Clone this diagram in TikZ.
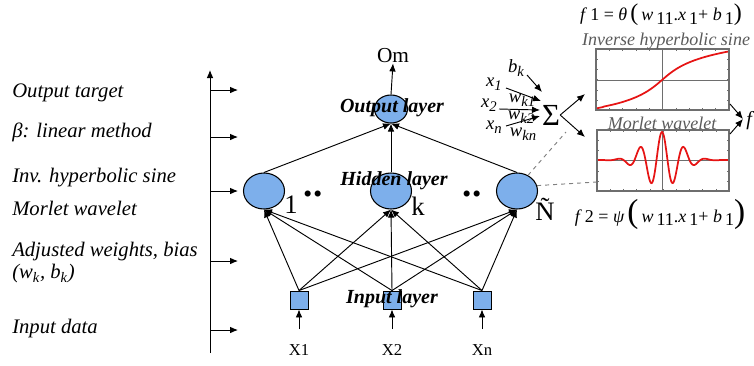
\documentclass[tikz,border=0pt]{standalone}
\usepackage{fontspec}
\setmainfont{Liberation Serif}
\usetikzlibrary{shapes.geometric,arrows.meta}
\definecolor{nodeblue}{RGB}{125,175,235}
\definecolor{framegray}{RGB}{110,110,110}
\definecolor{titlegray}{RGB}{90,90,90}
\definecolor{curvered}{RGB}{230,20,20}
\newcommand{\lowsub}[1]{\raisebox{-3pt}{\fontsize{11}{11}\selectfont\itshape #1}}
\begin{document}
\begin{tikzpicture}[x=0.75pt,y=-0.75pt,
  neuron/.style={ellipse,draw=black,fill=nodeblue,line width=0.8pt,inner sep=0pt},
  inbox/.style={rectangle,draw=black,fill=nodeblue,line width=0.7pt,minimum size=13.5pt,inner sep=0pt},
  arr/.style={line width=0.7pt,-{Latex[length=6pt,width=5pt]}},
  lbl/.style={font=\fontsize{15.5}{17}\selectfont\itshape,anchor=west,inner sep=0pt},
  layerlbl/.style={font=\fontsize{15}{17}\selectfont\bfseries\itshape,inner sep=0pt},
  idx/.style={font=\fontsize{20}{22}\selectfont,inner sep=0pt},
  xlbl/.style={font=\fontsize{12.5}{14}\selectfont,inner sep=0pt},
  small/.style={font=\fontsize{14}{15}\selectfont\itshape,inner sep=0pt},
  ptitle/.style={font=\fontsize{13.5}{15}\selectfont\itshape,text=titlegray,inner sep=0pt},
  frame/.style={draw=framegray,line width=0.8pt},
  axisln/.style={draw=framegray,line width=0.6pt},
  curve/.style={draw=curvered,line width=1.3pt},
  dashgray/.style={draw=gray,dashed,line width=0.7pt},
  dots/.style={font=\fontsize{28}{28}\selectfont\bfseries,inner sep=0pt,anchor=base}]
\useasboundingbox (0,0) rectangle (754,365);

% ---------- left axis ----------
\coordinate (axb) at (210,353);
\coordinate (axt) at (210,70);
\draw[arr] (axb) -- (axt);
\foreach \n/\yy in {a1/90,a2/137,a3/191,a4/261,a5/330}{
  \coordinate (\n s) at (210,\yy);
  \coordinate (\n e) at (238,\yy);
  \draw[arr] (\n s) -- (\n e);
}
\node[lbl] (t1) at (12,93) {Output target};
\node[lbl] (t2) at (12,132) {β: linear method};
\node[lbl] (t3) at (12,178) {Inv. hyperbolic sine};
\node[lbl] (t4) at (12,208) {Morlet wavelet};
\node[lbl] (t5) at (12,252) {Adjusted weights, bias};
\node[lbl] (t6) at (12,274) {(\textit{w}\textsubscript{\textit{k}}, \textit{b}\textsubscript{\textit{k}})};
\node[lbl] (t7) at (12,329) {Input data};

% ---------- network nodes ----------
\node[neuron,minimum width=24.75pt,minimum height=21pt] (out) at (391,109) {};
\node[neuron,minimum width=30.75pt,minimum height=27pt] (h1) at (264,191) {};
\node[neuron,minimum width=30.75pt,minimum height=27pt] (hk) at (391,191) {};
\node[neuron,minimum width=30.75pt,minimum height=27pt] (hN) at (517,191) {};
\node[inbox] (i1) at (299,300) {};
\node[inbox] (i2) at (392,300) {};
\node[inbox] (in) at (482,300) {};

\node[font=\fontsize{16}{18}\selectfont,inner sep=0pt] (Om) at (393,56) {Om};
\draw[arr] (out.north) -- (Om.south);

\foreach \h in {h1,hk,hN}{
  \draw[arr] (\h.north) -- (out.south);
}
\foreach \i in {i1,i2,in}{
  \foreach \h in {h1,hk,hN}{
    \draw[arr] (\i.north) -- (\h.south);
  }
}
\foreach \i/\xx in {i1/299,i2/392,in/482}{
  \coordinate (\i b) at (\xx,329);
  \draw[arr] (\i b) -- (\i.south);
}
\node[xlbl] (X1) at (299,350) {X1};
\node[xlbl] (X2) at (392,350) {X2};
\node[xlbl] (Xn) at (482,350) {Xn};

\node[idx] (l1) at (291,205) {1};
\node[idx] (lk) at (418,206) {k};
\node[idx] (lN) at (545,209) {Ñ};
\node[dots] (d1) at (313,196) {..};
\node[dots] (d2) at (472,196) {..};

\node[layerlbl] (ol) at (392,108) {Output layer};
\node[layerlbl] (hl) at (394,181) {Hidden layer};
\node[layerlbl] (il) at (392,299) {Input layer};

% ---------- neuron detail ----------
\node[font=\fontsize{23}{23}\selectfont,inner sep=0pt] (sig) at (551,115) {Σ};
\node[small] (bk) at (516,68) {b\lowsub{k}};
\node[small] (x1) at (494,84) {x\lowsub{1}};
\node[small] (x2) at (489,105) {x\lowsub{2}};
\node[small] (xn) at (494,127) {x\lowsub{n}};
\node[small] (w1) at (522,100) {w\lowsub{k1}};
\node[small] (w2) at (521,117) {w\lowsub{k2}};
\node[small] (wn) at (523,134) {w\lowsub{kn}};
\coordinate (bks) at (527,75);
\coordinate (bke) at (542,92);
\coordinate (x1s) at (506,88);
\coordinate (x1e) at (541,101);
\coordinate (x2s) at (499,109);
\coordinate (x2e) at (540,110);
\coordinate (xns) at (506,126);
\coordinate (xne) at (540,116);
\draw[arr] (bks) -- (bke);
\draw[arr] (x1s) -- (x1e);
\draw[arr] (x2s) -- (x2e);
\draw[arr] (xns) -- (xne);
\coordinate (su) at (585,94);
\coordinate (sd) at (585,137);
\draw[arr] (sig.east) -- (su);
\draw[arr] (sig.east) -- (sd);

% dashed links
\coordinate (dsig) at (566,132);
\coordinate (dbox) at (597,182);
\draw[dashgray] (hN.55) -- (dsig);
\draw[dashgray] (hN.15) -- (dbox);

% ---------- plots ----------
% inverse hyperbolic sine
\fill[white] (596,49) rectangle (729,110);
\draw[axisln] (662,49) -- (662,110);
\draw[axisln] (596,80) -- (729,80);
\foreach \t in {0,1,...,10}{
  \draw[framegray,line width=0.4pt] (596+13.3*\t,110) -- (596+13.3*\t,108);
  \draw[framegray,line width=0.4pt] (596+13.3*\t,49) -- (596+13.3*\t,51);
}
\foreach \t in {0,1,...,6}{
  \draw[framegray,line width=0.4pt] (596,49+10.2*\t) -- (598,49+10.2*\t);
  \draw[framegray,line width=0.4pt] (729,49+10.2*\t) -- (727,49+10.2*\t);
}
\begin{scope}
\clip (596,49) rectangle (729,110);
\draw[curve] plot[domain=-66:67,samples=80,smooth] ({662+\x},{80-13*ln(\x/15+sqrt((\x/15)^2+1))});
\end{scope}
\draw[frame] (596,49) rectangle (729,110);
\node[ptitle] (pt1) at (666,41) {Inverse hyperbolic sine};

% morlet wavelet
\fill[white] (597,130) rectangle (729,191);
\draw[axisln] (662,130) -- (662,191);
\draw[axisln] (597,160) -- (729,160);
\foreach \t in {0,1,...,10}{
  \draw[framegray,line width=0.4pt] (597+13.2*\t,191) -- (597+13.2*\t,189);
  \draw[framegray,line width=0.4pt] (597+13.2*\t,130) -- (597+13.2*\t,132);
}
\foreach \t in {0,1,...,6}{
  \draw[framegray,line width=0.4pt] (597,130+10.2*\t) -- (599,130+10.2*\t);
  \draw[framegray,line width=0.4pt] (729,130+10.2*\t) -- (727,130+10.2*\t);
}
\begin{scope}
\clip (597,130) rectangle (729,191);
\draw[curve] plot[domain=-65:67,samples=220,smooth] ({662+\x},{160-28*cos(5*\x/17.5 r)*exp(-(\x/17.5)^2/2)});
\end{scope}
\draw[frame] (597,130) rectangle (729,191);
\node[ptitle] (pt2) at (662,123) {Morlet wavelet};

% outputs to f
\coordinate (p1o) at (730,104);
\coordinate (p2o) at (730,134);
\coordinate (fin) at (743,119);
\draw[arr] (p1o) -- (fin);
\draw[arr] (p2o) -- (fin);
\node[font=\fontsize{15}{16}\selectfont\itshape,anchor=west,inner sep=0pt] (fout) at (746,121) {f};

% formulas
\node[font=\fontsize{13.5}{15}\selectfont,inner sep=0pt] (f1) at (661,15)
  {\textit{f}\,1 = \textit{θ}\,{\fontsize{18}{18}\selectfont(}\,\textit{w}\,\raisebox{-2.5pt}{11}.\textit{x}\,\raisebox{-2.5pt}{1}+ \textit{b}\,\raisebox{-2.5pt}{1}{\fontsize{18}{18}\selectfont)}};
\node[font=\fontsize{13.5}{15}\selectfont,inner sep=0pt] (f2) at (660,214)
  {\textit{f}\,2 = \textit{ψ}\,{\fontsize{25}{25}\selectfont(}\,\textit{w}\,\raisebox{-2.5pt}{11}.\textit{x}\,\raisebox{-2.5pt}{1}+ \textit{b}\,\raisebox{-2.5pt}{1}{\fontsize{25}{25}\selectfont)}};
\end{tikzpicture}
\end{document}
